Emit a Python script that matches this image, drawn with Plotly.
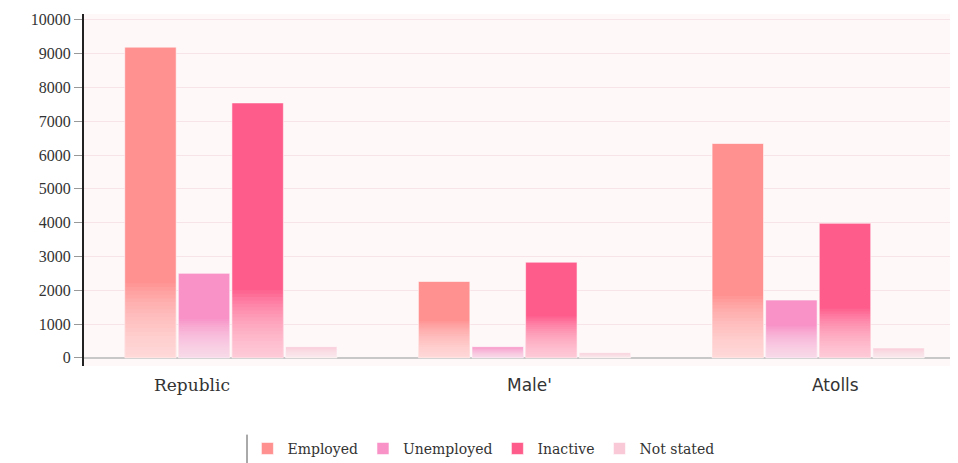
import math
import plotly.graph_objects as go

categories = ["Republic", "Male'", "Atolls"]
series_names = ["Employed", "Unemployed", "Inactive", "Not stated"]
employed = [9190, 2260, 6340]
unemployed = [2500, 330, 1710]
inactive = [7540, 2830, 3980]
not_stated = [330, 150, 290]
y_tick_values = list(range(0, 10001, 1000))
y_tick_labels = [str(v) for v in y_tick_values]

series_values = [employed, unemployed, inactive, not_stated]
colors = ["#ff9191", "#f892c7", "#fe5d8c", "#f9c9d8"]

fig = go.Figure()
for name, vals, col in zip(series_names, series_values, colors):
    fig.add_trace(go.Bar(
        x=categories, y=vals, name=name, offsetgroup=name,
        marker=dict(color=col, line=dict(color="rgba(255,255,255,0.55)", width=1)),
    ))

# soft whitening toward the base of each bar (layered translucent overlays)
N = 20
for name, vals in zip(series_names, series_values):
    grad = [min(v, 23 * math.sqrt(v)) for v in vals]
    for k in range(N, 0, -1):
        fig.add_trace(go.Bar(
            x=categories, y=[g * k / N for g in grad], offsetgroup=name,
            marker=dict(color="rgba(255,255,255,0.06)", line=dict(width=0)),
            showlegend=False, hoverinfo="skip",
        ))

# category labels
label_shift = [-39, 5, 17]
label_fonts = ["DejaVu Serif", "DejaVu Sans", "DejaVu Sans"]
for cat, dx, fam in zip(categories, label_shift, label_fonts):
    fig.add_annotation(x=cat, y=0, xref="x", yref="y", text=cat, showarrow=False,
                       xshift=dx, yshift=-15, yanchor="top",
                       font=dict(family=fam, size=17, color="#333333"))

# legend left edge rule
fig.add_shape(type="line", xref="paper", yref="paper",
              x0=0.1865, x1=0.1865, y0=-0.195, y1=-0.30,
              line=dict(color="#555555", width=1))

fig.update_layout(
    width=950, height=455,
    margin=dict(l=76, r=0, t=6, b=97, autoexpand=False),
    paper_bgcolor="white", plot_bgcolor="#fef8f8",
    barmode="group", bargap=0.27, bargroupgap=0.04,
    showlegend=True,
    legend=dict(orientation="h", x=0.457, xanchor="center", y=-0.19, yanchor="top",
                font=dict(family="DejaVu Serif", size=14, color="#333333"),
                bgcolor="rgba(0,0,0,0)", traceorder="normal"),
    xaxis=dict(type="category", range=[-0.5, 2.476], showticklabels=False,
               showgrid=False, showline=False, ticks="", fixedrange=True,
               automargin=False),
    yaxis=dict(range=[-240, 10170], tickvals=y_tick_values, ticktext=y_tick_labels,
               ticks="outside", ticklen=8, tickcolor="#999999", tickwidth=1,
               showline=True, linecolor="#222222", linewidth=2,
               showgrid=True, gridcolor="rgba(240,205,215,0.45)", gridwidth=1,
               zeroline=True, zerolinecolor="#c8c8c8", zerolinewidth=2,
               automargin=False,
               tickfont=dict(family="Liberation Serif", size=16, color="#333333")),
    font=dict(family="DejaVu Serif", color="#333333"),
)

fig.write_html("out.html")
